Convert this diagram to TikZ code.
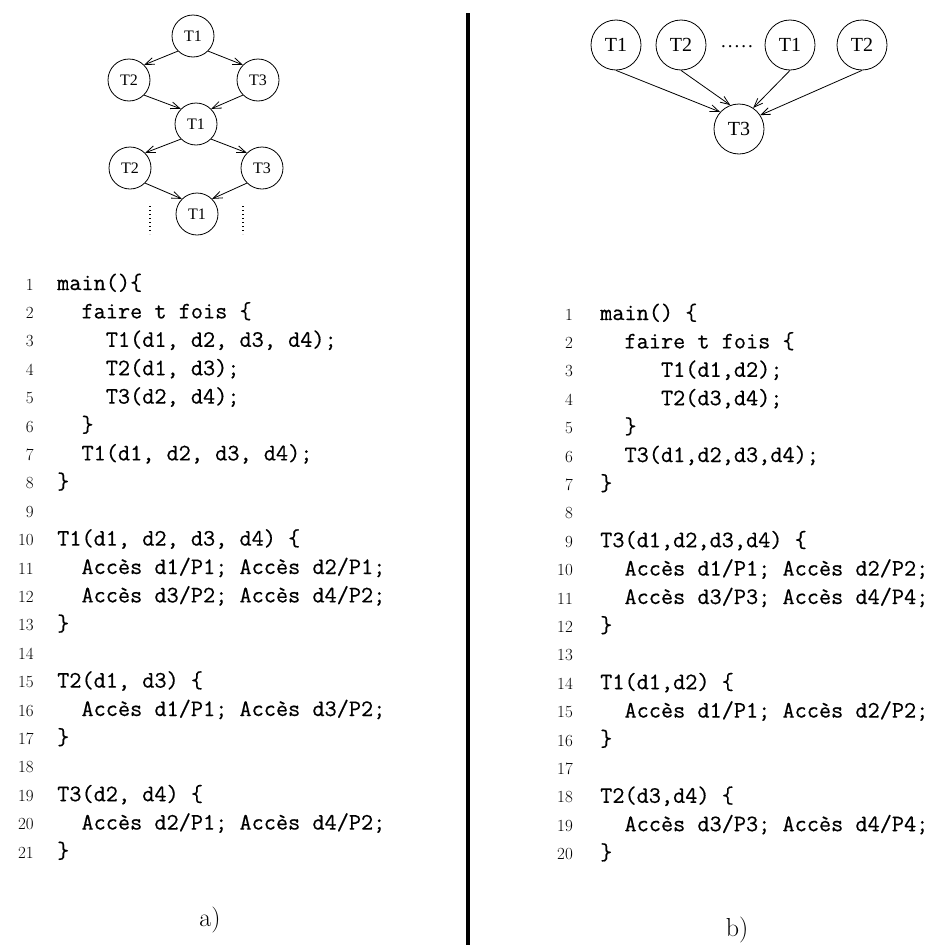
\documentclass[tikz,border=0pt]{standalone}
\usepackage{fontspec}
\newfontfamily\figfont{Liberation Serif}
\newfontfamily\codefont{Latin Modern Mono}[FakeBold=0.5]
\usetikzlibrary{arrows.meta, positioning}
\tikzstyle{task} = [circle, draw, line width=0.8pt, inner sep=0pt, minimum size=42pt,
                  font=\figfont\fontsize{16}{18}\selectfont]
\tikzstyle{bigtask} = [task, minimum size=50pt, font=\figfont\fontsize{20}{22}\selectfont]
\tikzstyle{link} = [draw, line width=0.8pt, -{Straight Barb[length=9pt,width=7pt]}]
\tikzstyle{ellip} = [line width=1.4pt, dash pattern=on 1.4pt off 2.6pt]
\tikzstyle{code} = [inner sep=0pt, anchor=base west, font=\codefont\fontsize{23.6}{28.4}\selectfont]
\tikzstyle{lnum} = [inner sep=0pt, anchor=base east, font=\fontsize{17}{28.4}\selectfont]
\tikzstyle{caption} = [inner sep=0pt, font=\fontsize{26}{30}\selectfont]

\begin{document}
\begin{tikzpicture}
        [x=1pt, y=-1pt, on grid]
        \useasboundingbox (0,0) rectangle (938,945);

        % a) graphe des taches
        \node [task] (t1a) at (193,36) {T1};
        \node [task, below left=44pt and 64pt of t1a] (t2a) {T2};
        \node [task, below right=44pt and 65pt of t1a] (t3a) {T3};
        \node [task, below=88pt of t1a, xshift=3pt] (t1b) {T1};
        \node [task, below left=44pt and 66pt of t1b] (t2b) {T2};
        \node [task, below right=44pt and 66pt of t1b] (t3b) {T3};
        \node [task, below=90pt of t1b, xshift=1pt] (t1c) {T1};

        \draw [link] (t1a.south west) -- (t2a.north east);
        \draw [link] (t1a.south east) -- (t3a.north west);
        \draw [link] (t2a.south east) -- (t1b.north west);
        \draw [link] (t3a.south west) -- (t1b.north east);
        \draw [link] (t1b.south west) -- (t2b.north east);
        \draw [link] (t1b.south east) -- (t3b.north west);
        \draw [link] (t2b.south east) -- (t1c.north west);
        \draw [link] (t3b.south west) -- (t1c.north east);
        \draw [ellip] (150,206) -- (150,234);
        \draw [ellip] (243,206) -- (243,234);

        % b) graphe des taches
        \node [bigtask] (u1) at (616,45) {T1};
        \node [bigtask, right=65pt of u1] (u2) {T2};
        \node [bigtask, right=109pt of u2] (u3) {T1};
        \node [bigtask, right=72pt of u3] (u4) {T2};
        \node [bigtask, below=84pt of u2, xshift=58pt] (u5) {T3};
        \node [inner sep=0pt, anchor=base, font=\figfont\fontsize{19}{22}\selectfont] (gap) at (737,47)
              {.\kern2pt.\kern2pt.\kern2pt.\kern2pt.};

        \draw [link] (u1.south) -- (u5.138);
        \draw [link] (u2.south) -- (u5.110);
        \draw [link] (u3.south) -- (u5.56);
        \draw [link] (u4.south) -- (u5.33);

        % separateur
        \draw [line width=4pt] (468,13) -- (468,945);

        % a) code
        \node [lnum] (numa) at (34,290) {\begin{tabular}[t]{@{}r@{}}
              1\\2\\3\\4\\5\\6\\7\\8\\9\\10\\11\\12\\13\\14\\15\\16\\17\\18\\19\\20\\21
              \end{tabular}};
        \node [code] (codea) at (57,290) {\begin{tabular}[t]{@{}l@{}}
              main()\{\\
              ~~faire t fois \{\\
              ~~~~T1(d1, d2, d3, d4);\\
              ~~~~T2(d1, d3);\\
              ~~~~T3(d2, d4);\\
              ~~\}\\
              ~~T1(d1, d2, d3, d4);\\
              \}\\
              \\
              T1(d1, d2, d3, d4) \{\\
              ~~Accès d1/P1; Accès d2/P1;\\
              ~~Accès d3/P2; Accès d4/P2;\\
              \}\\
              \\
              T2(d1, d3) \{\\
              ~~Accès d1/P1; Accès d3/P2;\\
              \}\\
              \\
              T3(d2, d4) \{\\
              ~~Accès d2/P1; Accès d4/P2;\\
              \}
              \end{tabular}};

        % b) code
        \node [lnum] (numb) at (573,320) {\begin{tabular}[t]{@{}r@{}}
              1\\2\\3\\4\\5\\6\\7\\8\\9\\10\\11\\12\\13\\14\\15\\16\\17\\18\\19\\20
              \end{tabular}};
        \node [code] (codeb) at (600,320) {\begin{tabular}[t]{@{}l@{}}
              main() \{\\
              ~~faire t fois \{\\
              ~~~~~T1(d1,d2);\\
              ~~~~~T2(d3,d4);\\
              ~~\}\\
              ~~T3(d1,d2,d3,d4);\\
              \}\\
              \\
              T3(d1,d2,d3,d4) \{\\
              ~~Accès d1/P1; Accès d2/P2;\\
              ~~Accès d3/P3; Accès d4/P4;\\
              \}\\
              \\
              T1(d1,d2) \{\\
              ~~Accès d1/P1; Accès d2/P2;\\
              \}\\
              \\
              T2(d3,d4) \{\\
              ~~Accès d3/P3; Accès d4/P4;\\
              \}
              \end{tabular}};

        \node [caption] (capa) at (210,920) {a)};
        \node [caption] (capb) at (737,930) {b)};
    \end{tikzpicture}
\end{document}
